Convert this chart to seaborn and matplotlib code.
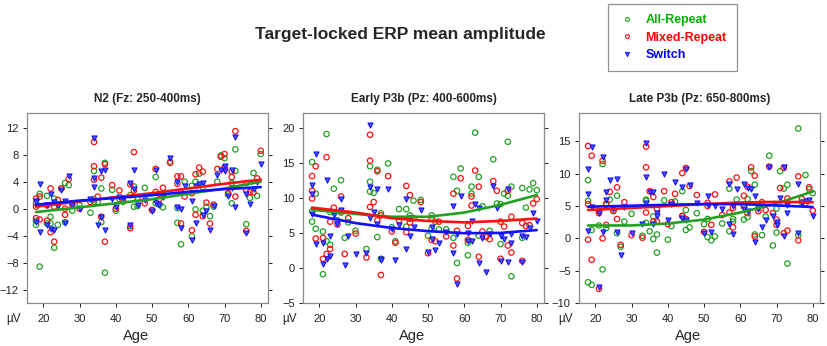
import numpy as np
import pandas as pd
import matplotlib
matplotlib.use("Agg")
import matplotlib.pyplot as plt
import seaborn as sns
from matplotlib.lines import Line2D

sns.set_style("ticks")
plt.rcParams["font.family"] = ["Liberation Sans", "DejaVu Sans"]

# subject ages (same subjects in every panel)
ages = [18, 18, 18, 19, 19, 21, 21, 22, 22, 23, 23, 24, 25, 26, 26, 27, 28, 30, 33, 34,
        34, 34, 35, 36, 36, 37, 37, 39, 40, 41, 42, 44, 44, 45, 45, 46, 48, 50, 51, 51,
        52, 53, 55, 57, 57, 58, 58, 59, 61, 61, 62, 62, 63, 64, 64, 65, 66, 67, 68, 69,
        70, 70, 71, 72, 72, 73, 73, 76, 76, 77, 78, 79, 80]

# N2 (Fz: 250-400ms)
n2_all = [-2.4, -1.8, 0.8, 2.2, -8.6, 1.9, -2.2, -1.2, -2.2, 1.5, -5.8, -2.4, 3.0, 3.8, -2.0, 3.5, -0.3, 0.5, -0.6, 5.6,
          1.4, 1.0, 1.0, 3.0, -2.0, 6.8, -9.5, 2.8, -0.3, 1.4, 1.0, 2.0, -2.6, 3.3, 0.3, 0.4, 3.1, -0.2, 4.7, 0.8,
          0.6, 0.2, 7.0, 0.1, -2.1, -5.3, 2.5, 4.0, -4.1, 3.4, 4.0, -0.1, 5.2, 3.2, -0.3, 0.3, -1.1, 0.3, 4.0, 7.9,
          7.5, 5.9, 2.1, 3.8, 0.8, 8.8, 5.6, -2.3, 3.8, 1.6, 5.3, 1.9, 8.1]
n2_mixed = [-1.4, 1.5, 0.3, 1.8, -1.6, 0.5, -1.8, 3.0, -3.5, 0.3, -4.9, 1.3, 3.0, 0.0, -0.9, 4.4, 0.6, 0.0, 1.0, 9.9,
            6.3, 4.3, 1.8, 4.6, -1.2, 6.6, -4.9, 3.5, 0.0, 2.7, 1.3, 3.6, -2.9, 8.4, 2.7, 1.6, 0.8, -0.2, 5.9, 2.5,
            1.4, 3.1, 6.8, 4.8, 3.7, -2.2, 4.8, 1.8, -3.2, 2.3, 5.1, -0.9, 6.1, 5.5, -1.1, 0.9, -2.2, 0.6, 5.9, 7.7,
            8.1, 6.1, 2.3, 5.5, 4.7, 11.5, 1.8, -3.3, 2.7, 2.5, 2.4, 4.5, 8.6]
n2_switch = [-2.0, 1.2, 1.0, 3.7, -3.4, 0.6, -2.4, 2.2, -3.0, 1.0, -3.2, 0.4, 2.8, 1.2, -2.1, 4.8, 0.6, 0.0, 1.5, 10.5,
             4.5, 3.2, -2.4, 5.6, -1.2, 5.8, -3.1, 1.5, 0.2, 1.8, 1.6, 3.8, -2.4, 5.8, 2.9, 0.5, 1.3, -0.3, 5.8, 0.8,
             0.6, 1.8, 7.5, 3.9, 0.3, -2.8, -0.1, 3.3, -4.7, 1.1, 3.3, -2.2, 3.6, 3.8, -1.0, -0.3, -3.1, 0.4, 5.0, 5.7,
             6.3, 5.6, 1.9, 5.8, 3.0, 10.6, 0.3, -3.6, 2.2, 0.7, 2.9, 3.9, 6.6]

# Early P3b (Pz: 400-600ms)
early_all = [15.1, 8.1, 6.6, 10.6, 5.6, 5.2, -0.9, 19.1, 3.8, 8.0, 3.3, 11.3, 6.8, 12.5, 7.9, 4.3, 6.5, 5.3, 2.7, 14.5,
             12.3, 10.9, 10.7, 14.0, 4.4, 7.8, 1.3, 14.9, 5.8, 3.8, 8.4, 8.4, 5.9, 7.5, 7.0, 9.6, 9.7, 4.6, 7.5, 5.6,
             6.6, 5.5, 5.5, 13.0, 4.3, 0.7, 11.0, 14.2, 1.8, 3.6, 11.6, 10.6, 19.3, 13.0, 4.6, 8.8, 4.4, 5.3, 15.5, 9.2,
             9.1, 3.4, 10.6, 18.0, 10.3, 11.6, -1.2, 11.4, 4.3, 8.6, 11.2, 12.1, 11.1]
early_mixed = [13.1, 11.0, 9.9, 14.5, 4.2, 4.3, 1.3, 15.8, 2.0, 6.6, 2.7, 8.6, 6.2, 10.2, 8.1, 2.0, 7.1, 4.9, 1.5, 19.0,
               15.3, 8.7, 9.4, 13.8, 6.8, 7.5, -1.0, 13.1, 5.2, 3.6, 6.8, 11.7, 5.1, 10.4, 6.5, 7.1, 9.4, 2.1, 7.1, 4.0,
               3.8, 6.6, 4.5, 10.6, 3.2, -1.5, 5.3, 12.8, 6.0, 4.0, 10.2, 8.9, 13.9, 11.6, 1.6, 5.2, 4.5, 4.1, 12.4, 11.0,
               6.6, 1.3, 5.9, 11.0, 3.2, 7.3, 2.2, 6.4, 1.0, 6.0, 6.1, 9.2, 9.8]
early_switch = [11.8, 10.5, 7.7, 16.2, 3.4, 3.5, 0.6, 12.5, 1.3, 4.5, 1.7, 7.5, 6.3, 9.8, 8.3, 0.4, 4.5, 2.0, 2.1, 20.4,
                11.6, 7.1, 8.0, 11.3, 6.2, 1.3, 1.2, 11.3, 5.5, 1.2, 6.1, 9.8, 2.7, 7.1, 4.6, 5.9, 8.2, 2.3, 5.8, 4.1,
                2.5, 3.5, 5.1, 8.8, 2.2, -2.3, 4.8, 10.2, 3.8, 5.0, 6.7, 3.8, 9.1, 8.6, 0.7, 4.2, -0.6, 4.8, 11.7, 8.5,
                4.6, 1.0, 4.1, 11.3, 0.8, 4.8, 3.5, 4.6, 0.9, 4.4, 5.7, 7.9, 6.7]

# Late P3b (Pz: 650-800ms)
late_all = [9.0, 5.8, -6.8, 1.3, -7.2, 4.2, 2.0, 11.5, -4.8, 5.2, 1.6, 6.0, 4.2, 6.6, 0.8, -1.3, 2.6, 3.8, 0.4, 6.0,
            2.4, 5.8, 1.1, 3.4, -0.1, 0.6, -2.2, 5.9, -0.2, 1.9, 5.7, 7.3, 3.4, 4.4, 1.3, 1.7, 3.9, 2.2, 0.2, 3.0,
            -0.3, 0.3, 2.3, 7.7, 1.1, 2.6, 3.0, 6.0, 2.9, 4.9, 6.1, 3.3, 10.4, 8.3, 0.6, 5.2, 0.5, 3.4, 12.8, -1.1,
            4.6, 0.9, 10.4, 7.7, 5.4, 8.3, -3.9, 17.0, 0.5, 5.6, 9.8, 7.6, 7.0]
late_mixed = [14.3, 5.3, -0.2, 12.8, -3.3, 3.9, -7.8, 12.0, 0.0, 5.4, 2.1, 7.2, 4.3, 7.9, 3.0, -1.0, 5.6, 0.5, 0.1, 14.2,
              11.0, 4.0, 7.3, 6.4, 2.6, 4.6, 2.6, 7.3, 2.2, 5.6, 6.9, 10.1, 3.5, 10.9, 3.0, 8.1, 6.7, 1.0, 5.5, 5.0,
              2.1, 6.8, 3.6, 8.8, 4.0, 1.7, 4.7, 9.4, 6.6, 5.0, 8.0, 3.9, 11.0, 9.7, 0.3, 4.2, 5.6, 4.4, 11.1, 3.9,
              2.9, 2.1, 7.8, 10.9, 0.8, 6.2, 1.2, 9.6, -0.3, 6.1, 5.4, 7.9, 4.3]
late_switch = [10.8, 6.8, 1.1, 14.1, 4.8, 4.0, -7.5, 12.6, 1.0, 7.2, 5.9, 9.1, 4.5, 9.2, 1.0, -2.6, 4.9, 0.8, 2.2, 14.7,
               9.5, 5.5, 7.1, 7.2, 2.3, 3.9, 3.5, 10.0, 2.8, 5.3, 8.8, 8.0, 3.2, 10.8, 2.9, 8.2, 5.4, 0.9, 6.5, 5.1,
               1.0, 5.0, 4.6, 8.4, 2.3, 0.6, 5.0, 7.7, 8.4, 4.5, 7.8, 4.2, 7.6, 6.6, -0.6, 4.5, 1.7, 2.9, 11.0, 3.4,
               2.6, 2.1, 6.3, 11.1, 0.4, 3.9, 5.2, 8.4, 0.8, 5.4, 5.8, 5.9, 3.5]

# fitted trend lines
fit_ages = [18, 30, 40, 50, 60, 70, 80]
n2_fit_all = [-0.5, 0.2, 0.8, 1.4, 2.2, 3.0, 4.0]
n2_fit_mixed = [0.3, 1.1, 1.7, 2.3, 3.0, 3.7, 4.3]
n2_fit_switch = [0.6, 1.2, 1.6, 2.0, 2.5, 2.9, 3.2]
early_fit_all = [8.3, 7.7, 7.3, 7.3, 7.9, 9.0, 10.4]
early_fit_mixed = [8.6, 7.9, 7.1, 6.7, 6.5, 6.7, 7.05]
early_fit_switch = [7.6, 6.4, 5.7, 5.25, 4.95, 5.0, 5.4]
late_fit_all = [2.0, 2.0, 2.3, 2.9, 4.0, 5.4, 7.25]
late_fit_mixed = [4.4, 4.7, 5.0, 5.3, 5.55, 5.65, 5.6]
late_fit_switch = [4.9, 5.05, 5.2, 5.3, 5.3, 5.1, 4.85]

conditions = ["All-Repeat", "Mixed-Repeat", "Switch"]
colors = {"All-Repeat": "#22a022", "Mixed-Repeat": "#ff1010", "Switch": "#1010ff"}
text_colors = {"All-Repeat": "#00b000", "Mixed-Repeat": "#ff0000", "Switch": "#0000ff"}

panels = [
    ("N2 (Fz: 250-400ms)", [n2_all, n2_mixed, n2_switch], [n2_fit_all, n2_fit_mixed, n2_fit_switch],
     (-14, 14.2), [-12, -8, -4, 0, 4, 8, 12]),
    ("Early P3b (Pz: 400-600ms)", [early_all, early_mixed, early_switch],
     [early_fit_all, early_fit_mixed, early_fit_switch], (-5, 22.1), [-5, 0, 5, 10, 15, 20]),
    ("Late P3b (Pz: 650-800ms)", [late_all, late_mixed, late_switch],
     [late_fit_all, late_fit_mixed, late_fit_switch], (-10, 19.4), [-10, -5, 0, 5, 10, 15]),
]

fig = plt.figure(figsize=(8.27, 3.46), dpi=100)
lefts = [27, 303, 579]
W, H = 827, 346

for left, (title, series, fits, ylim, yticks) in zip(lefts, panels):
    ax = fig.add_axes([left / W, 1 - 303 / H, 241 / W, 190 / H])
    for cond, vals in zip(conditions, series):
        df = pd.DataFrame({"Age": ages, "Amp": vals})
        if cond == "Switch":
            sns.scatterplot(data=df, x="Age", y="Amp", ax=ax, marker="v", s=13,
                            facecolor="#5a5aff", edgecolor=colors[cond], linewidth=0.8, zorder=3)
        else:
            sns.scatterplot(data=df, x="Age", y="Amp", ax=ax, marker="o", s=15,
                            facecolor="none", edgecolor=colors[cond], linewidth=0.9, zorder=2)
    for cond, fv in zip(conditions, fits):
        sns.lineplot(x=fit_ages, y=fv, ax=ax, color=colors[cond], linewidth=1.9, zorder=4)

    ax.set_xlim(15.5, 82)
    ax.set_ylim(*ylim)
    ax.set_xticks([20, 30, 40, 50, 60, 70, 80])
    ax.set_yticks(yticks)
    ax.tick_params(axis="both", labelsize=8, colors="#222222", length=3, width=0.7, pad=3)
    ax.tick_params(axis="y", right=True)
    ax.tick_params(axis="x", pad=5)
    for sp in ax.spines.values():
        sp.set_visible(True)
        sp.set_color("#8a8a8a")
        sp.set_linewidth(0.9)
    ax.set_title(title, fontsize=8.5, fontweight="bold", pad=8)
    ax.set_xlabel("Age", fontsize=10.5, va="center")
    ax.set_ylabel("")
    ax.xaxis.set_label_coords(0.452, -0.172)
    ax.text(-0.054, -0.085, "\u00b5V", transform=ax.transAxes, ha="center", va="center",
            fontsize=8.5, color="#222222")

fig.text(400 / W, 1 - 35 / H, "Target-locked ERP mean amplitude", ha="center", va="center",
         fontsize=12.5, fontweight="bold")

handles = [
    Line2D([], [], linestyle="none", marker="o", markersize=2.8, markerfacecolor="none",
           markeredgecolor=colors["All-Repeat"], markeredgewidth=0.8),
    Line2D([], [], linestyle="none", marker="o", markersize=2.8, markerfacecolor="none",
           markeredgecolor=colors["Mixed-Repeat"], markeredgewidth=0.8),
    Line2D([], [], linestyle="none", marker="v", markersize=3.2, markerfacecolor="#5a5aff",
           markeredgecolor=colors["Switch"], markeredgewidth=0.6),
]
leg = fig.legend(handles, conditions, loc="upper left", bbox_to_anchor=(608 / W, 1 - 4 / H),
                 fontsize=9, frameon=True, fancybox=False, edgecolor="#777777",
                 borderpad=0.8, labelspacing=0.45, handlelength=1.4, handletextpad=0.8,
                 borderaxespad=0)
leg.get_frame().set_linewidth(0.9)
for txt in leg.get_texts():
    txt.set_color(text_colors[txt.get_text()])
    txt.set_fontweight("bold")

fig.savefig("out.png", dpi=100)
